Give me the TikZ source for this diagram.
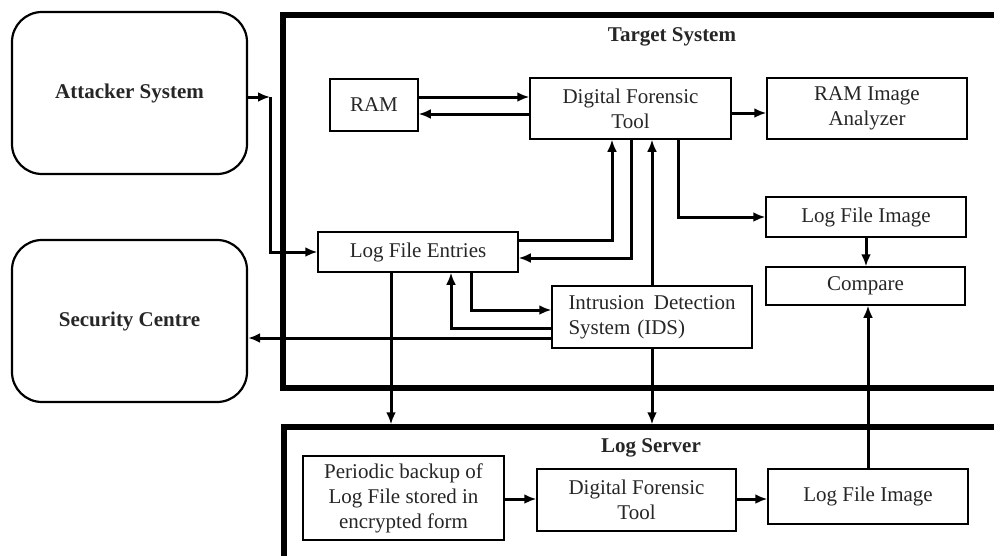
\documentclass[tikz,border=0pt]{standalone}
\usepackage{fontspec}
\setmainfont{Liberation Serif}
\usetikzlibrary{arrows.meta}

\begin{document}
\begin{tikzpicture}[x=1pt,y=-1pt,
    caja/.style={draw, line width=1.5pt, align=center, inner sep=2pt, text=black!85, font=\fontsize{21}{25}\selectfont},
    extremo/.style={draw, line width=2.2pt, rounded corners=30pt, minimum width=235pt, minimum height=162pt, text=black!85, font=\bfseries\fontsize{21}{25}\selectfont},
    marco/.style={draw, line width=5.5pt, inner sep=0pt},
    titulo/.style={text=black!85, font=\bfseries\fontsize{21}{25}\selectfont},
    flecha/.style={line width=3pt, -{Latex[length=12pt,width=10pt]}}]

    % Marco de la imagen
    \useasboundingbox (0,0) rectangle (994,555);
    \clip (0,0) rectangle (994,555);

    % Sistemas externos
    \node[extremo] (attacker) at (129.5,93) {Attacker System\\[12pt]};
    \node[extremo] (security) at (129.5,321) {Security Centre\\[12pt]};

    % Sistema objetivo
    \node[marco, minimum width=717pt, minimum height=373pt] (target) at (641.5,201.5) {};
    \node[titulo] (targettitle) at (672,37) {Target System};
    \node[caja, minimum width=88pt, minimum height=52pt] (ram) at (374,105) {RAM};
    \node[caja, minimum width=201pt, minimum height=61pt] (dft) at (630.5,108.5) {Digital Forensic\\Tool};
    \node[caja, minimum width=200pt, minimum height=61pt] (analyzer) at (867,108.5) {RAM Image\\Analyzer};
    \node[caja, minimum width=200pt, minimum height=40pt] (lfimg) at (866,217) {Log File Image};
    \node[caja, minimum width=199pt, minimum height=38pt] (compare) at (865.5,286) {Compare};
    \node[caja, minimum width=200pt, minimum height=40pt] (lfe) at (418,252) {Log File Entries};
    \node[caja, minimum width=200pt, minimum height=62pt, text width=167pt, align=left] (ids) at (652,317) {Intrusion\hfill Detection\\System (IDS)};

    % Servidor de logs
    \node[marco, minimum width=716pt, minimum height=140pt] (logsrv) at (642,497) {};
    \node[titulo] (logtitle) at (651,448) {Log Server};
    \node[caja, minimum width=201pt, minimum height=84pt] (backup) at (403.5,498) {Periodic backup of\\Log File stored in\\encrypted form};
    \node[caja, minimum width=199pt, minimum height=62pt] (dftlog) at (636.5,500) {Digital Forensic\\Tool};
    \node[caja, minimum width=200pt, minimum height=55pt] (lfimglog) at (868,496.5) {Log File Image};

    % Flechas del atacante
    \coordinate (aj) at (270,97);
    \draw[flecha] (attacker.east |- aj) -- (aj);
    \draw[flecha] (aj) |- (lfe.west);

    % Flechas entre RAM y herramienta
    \draw[flecha] (ram.east |- 0,97) -- (dft.west |- 0,97);
    \draw[flecha] (dft.west |- 0,114) -- (ram.east |- 0,114);
    \draw[flecha] (dft.east |- 0,113) -- (analyzer.west |- 0,113);

    % Flechas hacia y desde la herramienta
    \draw[flecha] (lfe.east |- 0,240) -| (612,0 |- dft.south);
    \draw[flecha] (631,0 |- dft.south) |- (lfe.east |- 0,258);
    \draw[flecha] (ids.north) -- (ids.north |- dft.south);
    \draw[flecha] (678,0 |- dft.south) |- (lfimg.west);
    \draw[flecha] (lfimg.south) -- (lfimg.south |- compare.north);

    % Flechas del IDS y de las entradas
    \draw[flecha] (471,0 |- lfe.south) |- (ids.west |- 0,310);
    \draw[flecha] (ids.west |- 0,328) -| (451,0 |- lfe.south);
    \draw[flecha] (ids.west |- 0,338) -- (security.east |- 0,338);
    \draw[flecha] (391,0 |- lfe.south) -- (391,0 |- logsrv.north);
    \draw[flecha] (ids.south) -- (ids.south |- logsrv.north);

    % Flechas del servidor de logs
    \draw[flecha] (backup.east |- 0,499) -- (dftlog.west |- 0,499);
    \draw[flecha] (dftlog.east |- 0,499) -- (lfimglog.west |- 0,499);
    \draw[flecha] (lfimglog.north) -- (lfimglog.north |- compare.south);
\end{tikzpicture}
\end{document}
